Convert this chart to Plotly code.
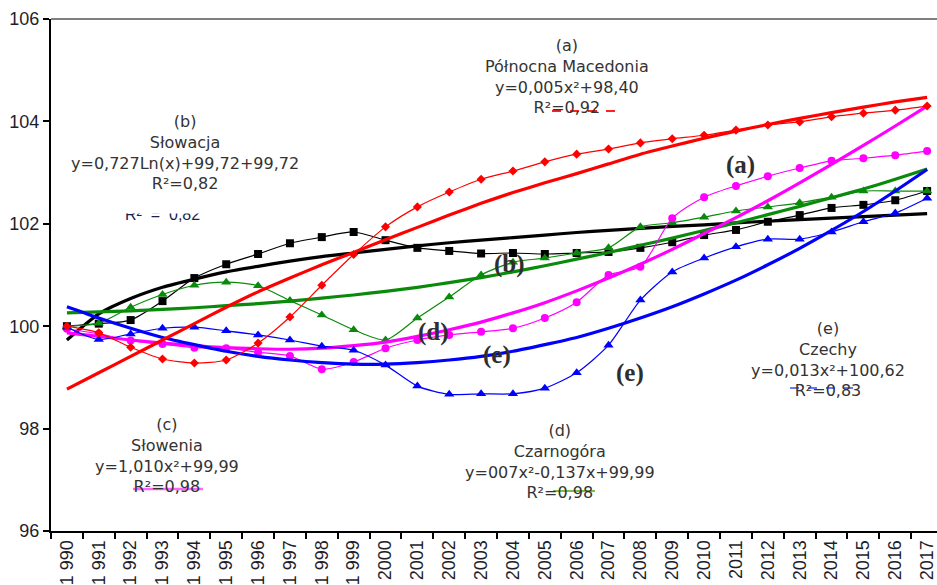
import plotly.graph_objects as go

years = [str(y) for y in range(1990, 2018)]
year_labels = ["1 990", "1 991", "1 992", "1 993", "1 994", "1 995", "1 996", "1 997",
               "1 998", "1 999", "2000", "2001", "2002", "2003", "2004", "2005", "2006",
               "2007", "2008", "2009", "2010", "2011", "2012", "2013", "2014", "2015",
               "2016", "2017"]

macedonia = [100.00, 99.87, 99.59, 99.36, 99.28, 99.34, 99.67, 100.18, 100.80, 101.40,
             101.94, 102.33, 102.62, 102.87, 103.03, 103.21, 103.36, 103.46, 103.58, 103.66,
             103.73, 103.83, 103.93, 103.99, 104.09, 104.16, 104.22, 104.30]
macedonia_trend = [98.77, 99.09, 99.41, 99.73, 100.05, 100.37, 100.67, 100.94, 101.20, 101.44,
                   101.69, 101.93, 102.17, 102.40, 102.61, 102.80, 102.98, 103.17, 103.36, 103.52,
                   103.67, 103.81, 103.94, 104.06, 104.17, 104.28, 104.38, 104.47]

slovakia = [100.00, 100.05, 100.12, 100.49, 100.94, 101.21, 101.41, 101.62, 101.74, 101.84,
            101.68, 101.53, 101.47, 101.42, 101.43, 101.41, 101.43, 101.45, 101.53, 101.64,
            101.78, 101.88, 102.04, 102.17, 102.31, 102.37, 102.46, 102.64]
slovakia_trend = [99.73, 100.24, 100.54, 100.76, 100.92, 101.06, 101.17, 101.27, 101.36, 101.43,
                  101.50, 101.57, 101.63, 101.68, 101.73, 101.78, 101.83, 101.87, 101.91, 101.95,
                  101.98, 102.02, 102.05, 102.08, 102.11, 102.14, 102.17, 102.20]

slovenia = [99.95, 99.85, 99.72, 99.65, 99.58, 99.57, 99.49, 99.42, 99.16, 99.30,
            99.57, 99.73, 99.83, 99.89, 99.96, 100.16, 100.47, 101.00, 101.16, 102.11,
            102.52, 102.74, 102.93, 103.09, 103.23, 103.28, 103.34, 103.42]
slovenia_trend = [99.87, 99.80, 99.73, 99.67, 99.62, 99.58, 99.56, 99.55, 99.57, 99.62,
                  99.69, 99.80, 99.93, 100.08, 100.26, 100.46, 100.69, 100.94, 101.21, 101.50,
                  101.81, 102.12, 102.45, 102.80, 103.16, 103.53, 103.91, 104.30]

montenegro = [100.00, 100.06, 100.37, 100.62, 100.80, 100.86, 100.79, 100.50, 100.22, 99.93,
              99.73, 100.16, 100.57, 101.00, 101.25, 101.33, 101.43, 101.53, 101.94, 102.02,
              102.13, 102.25, 102.33, 102.41, 102.52, 102.64, 102.64, 102.64]
montenegro_trend = [100.26, 100.28, 100.30, 100.33, 100.36, 100.40, 100.44, 100.49, 100.55, 100.61,
                    100.68, 100.76, 100.85, 100.95, 101.06, 101.18, 101.31, 101.44, 101.58, 101.72,
                    101.87, 102.02, 102.18, 102.34, 102.51, 102.68, 102.87, 103.07]

czechia = [99.98, 99.74, 99.85, 99.96, 99.98, 99.91, 99.83, 99.73, 99.61, 99.53,
           99.24, 98.83, 98.67, 98.68, 98.68, 98.79, 99.09, 99.63, 100.51, 101.06,
           101.33, 101.55, 101.70, 101.70, 101.84, 102.04, 102.21, 102.50]
czechia_trend = [100.38, 100.16, 99.96, 99.78, 99.64, 99.51, 99.41, 99.34, 99.29, 99.26,
                 99.26, 99.29, 99.34, 99.41, 99.51, 99.64, 99.78, 99.96, 100.16, 100.38,
                 100.63, 100.90, 101.20, 101.52, 101.87, 102.24, 102.64, 103.06]

W, H = 937, 585
ML, MR, MT, MB = 51, 0, 19, 54
PW, PH = W - ML - MR, H - MT - MB


def px(x):
    return (x - ML) / PW


def py(y):
    return (H - MB - y) / PH


fig = go.Figure()

series = [
    (slovakia, slovakia_trend, "#000000", "square", 8),
    (montenegro, montenegro_trend, "#0a8a0a", "triangle-up", 9),
    (slovenia, slovenia_trend, "#ff00ff", "circle", 8),
    (czechia, czechia_trend, "#0000ff", "triangle-up", 9),
    (macedonia, macedonia_trend, "#ff0000", "diamond", 7),
]
for data, trend, col, sym, size in series:
    fig.add_trace(go.Scatter(x=years, y=data, mode="lines+markers",
                             line=dict(color=col, width=1.2, shape="spline", smoothing=0.7),
                             marker=dict(symbol=sym, size=size, color=col),
                             showlegend=False, hoverinfo="skip"))
    fig.add_trace(go.Scatter(x=years, y=trend, mode="lines",
                             line=dict(color=col, width=3.2, shape="spline", smoothing=0.6),
                             showlegend=False, hoverinfo="skip"))

text_font = dict(family="DejaVu Sans", size=16, color="#333333")
blocks = [
    (567, 76.5, ["(a)", "Północna Macedonia", "y=0,005x²+98,40", "R²=0,92"]),
    (185, 152, ["(b)", "Słowacja", "y=0,727Ln(x)+99,72+99,72", "R²=0,82"]),
    (167, 455, ["(c)", "Słowenia", "y=1,010x²+99,99", "R²=0,98"]),
    (560, 461, ["(d)", "Czarnogóra", "y=007x²-0,137x+99,99", "R²=0,98"]),
    (828, 359, ["(e)", "Czechy", "y=0,013x²+100,62", "R²=0,83"]),
]

# faint legend remnants under R² labels
remnants = [
    (552, 620, 111, "#ff2020", 2, "dash"),
    (133, 203, 489, "#ff66ff", 2.5, "solid"),
    (553, 595, 491, "#7fbf3f", 2, "solid"),
    (790, 857, 388, "#3050ff", 1.5, "dash"),
]
for x0, x1, y0, col, w, d in remnants:
    fig.add_shape(type="line", xref="paper", yref="paper", x0=px(x0), x1=px(x1),
                  y0=py(y0), y1=py(y0), line=dict(color=col, width=w, dash=d), layer="above")

# ghost of an overlapped label
fig.add_annotation(xref="paper", yref="paper", x=px(162), y=py(214), text="R²  =  0,82",
                   showarrow=False, font=dict(family="Liberation Sans", size=16, color="#1a1f4d"),
                   xanchor="center", yanchor="middle")
fig.add_annotation(xref="paper", yref="paper", x=px(162), y=py(206), text=" ",
                   showarrow=False, bgcolor="#ffffff", width=90, height=14, borderpad=0,
                   xanchor="center", yanchor="middle")

for cx, cy, lines in blocks:
    fig.add_annotation(xref="paper", yref="paper", x=px(cx), y=py(cy), text="<br>".join(lines),
                       showarrow=False, font=text_font, align="center",
                       xanchor="center", yanchor="middle")

labels = [(740, 165, "(a)"), (510, 264, "(b)"), (433, 332, "(d)"), (497, 355, "(e)"), (630, 373, "(e)")]
for x, y, t in labels:
    fig.add_annotation(xref="paper", yref="paper", x=px(x), y=py(y), text="<b>" + t + "</b>",
                       showarrow=False, font=dict(family="Liberation Serif", size=25, color="#2e2e2e"),
                       xanchor="center", yanchor="middle")

# top frame line
fig.add_shape(type="line", xref="paper", yref="paper", x0=0, x1=1, y0=1, y1=1,
              line=dict(color="#555555", width=1.5))

fig.update_layout(
    width=W, height=H,
    margin=dict(l=ML, r=MR, t=MT, b=MB, pad=0),
    paper_bgcolor="white", plot_bgcolor="white",
    xaxis=dict(type="category", categoryorder="array", categoryarray=years,
               tickvals=years, ticktext=year_labels, tickangle=-90,
               range=[-0.5, 27.31], showgrid=False, zeroline=False,
               showline=True, linecolor="#000000", linewidth=2,
               ticks="outside", tickson="boundaries", ticklen=6, tickwidth=1.5, tickcolor="#000000",
               tickfont=dict(family="Liberation Sans", size=18, color="#1e1e2a"),
               automargin=False),
    yaxis=dict(range=[96, 106], tickvals=[96, 98, 100, 102, 104, 106], showgrid=False,
               zeroline=False, showline=True, linecolor="#000000", linewidth=2,
               ticks="outside", ticklen=6, tickwidth=1.5, tickcolor="#000000",
               tickfont=dict(family="Liberation Sans", size=18, color="#1e1e2a"),
               automargin=False),
)

fig.write_html("out.html")
